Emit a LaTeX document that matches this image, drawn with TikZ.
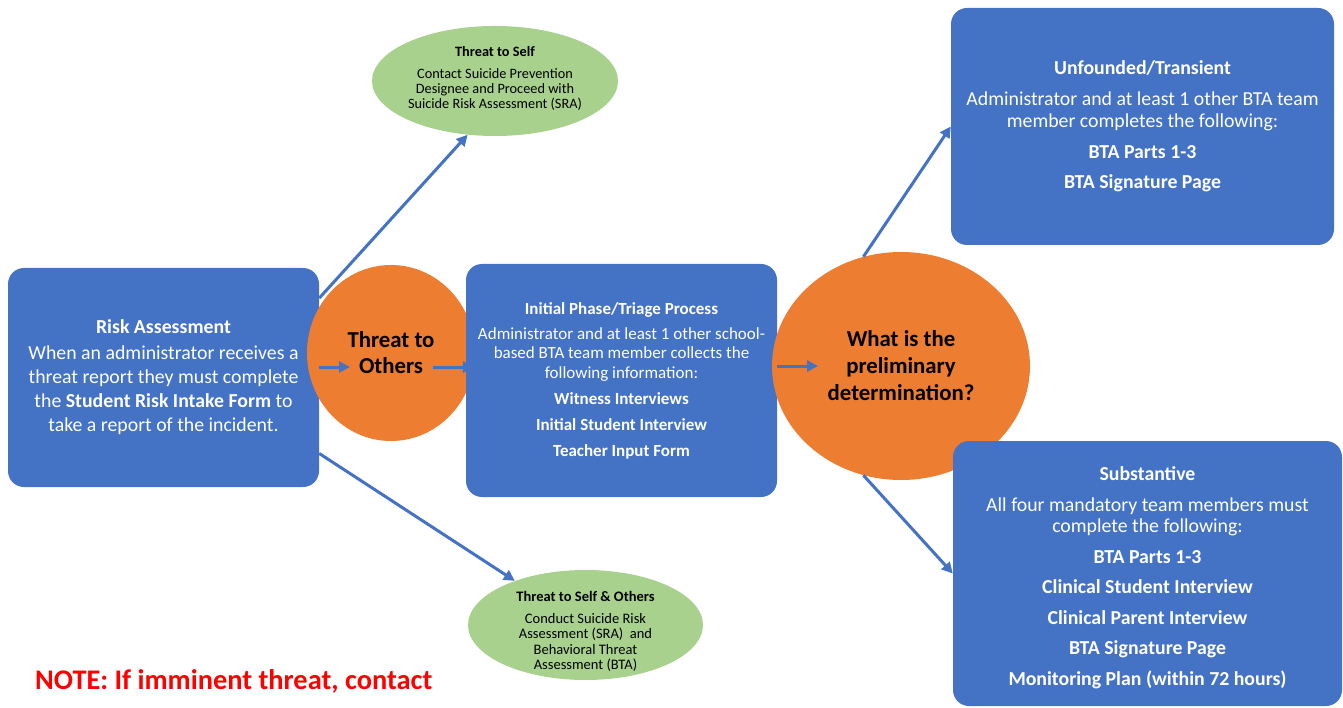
\documentclass[tikz,border=0pt]{standalone}
\usepackage{fontspec}
\setmainfont{Carlito}
\usetikzlibrary{arrows.meta,shapes.geometric,calc}
\definecolor{boxblue}{HTML}{4472C4}
\definecolor{circorange}{HTML}{ED7D31}
\definecolor{ellgreen}{HTML}{A9D18E}
\definecolor{notered}{HTML}{FF0000}
\begin{document}
\begin{tikzpicture}[x=1pt,y=-1pt,
  bluebox/.style={fill=boxblue, rounded corners=16pt, text=white, align=center, inner sep=0pt},
  orangeball/.style={ellipse, fill=circorange, text=black, align=center, inner sep=0pt},
  greenell/.style={ellipse, fill=ellgreen, inner sep=0pt},
  greentext/.style={text=black, align=center, inner sep=0pt},
  arr/.style={draw=boxblue, line width=3pt, -{Triangle[length=11pt,width=11pt]}}]
\useasboundingbox (0,0) rectangle (1343,708);

\node[bluebox, minimum width=311pt, minimum height=219pt, font=\fontsize{19.8}{24}\selectfont] (risk) at (163.5,377.5)
 {{\bfseries Risk Assessment}\\[2pt]
  When an administrator receives a\\
  threat report they must complete\\
  the {\bfseries Student Risk Intake Form} to\\
  take a report of the incident.};

\node[orangeball, minimum width=168pt, minimum height=176pt, font=\bfseries\fontsize{22.8}{26}\selectfont] (others) at (391,353)
 {Threat to\\Others};

\node[bluebox, minimum width=311pt, minimum height=233pt, font=\fontsize{17}{19.5}\selectfont] (init) at (621.5,380.5)
 {{\bfseries Initial Phase/Triage Process}\\[5.5pt]
  Administrator and at least 1 other school-\\
  based BTA team member collects the\\
  following information:\\[6.5pt]
  {\bfseries Witness Interviews}\\[6.5pt]
  {\bfseries Initial Student Interview}\\[6.5pt]
  {\bfseries Teacher Input Form}};

\node[orangeball, minimum width=258pt, minimum height=228pt, font=\bfseries\fontsize{22.8}{27}\selectfont] (what) at (901,366)
 {What is the\\preliminary\\determination?};

\node[bluebox, minimum width=383pt, minimum height=237pt, font=\fontsize{19.8}{22}\selectfont] (unf) at (1142.5,126.5)
 {{\bfseries Unfounded/Transient}\\[9pt]
  Administrator and at least 1 other BTA team\\
  member completes the following:\\[9pt]
  {\bfseries BTA Parts 1-3}\\[8pt]
  {\bfseries BTA Signature Page}};

\node[bluebox, minimum width=389pt, minimum height=265pt] (sub) at (1147.5,573.5) {};
\node[text=white, align=center, inner sep=0pt, font=\fontsize{19.8}{21}\selectfont] (subT) at ($(sub.center)+(0,4)$)
 {{\bfseries Substantive}\\[10pt]
  All four mandatory team members must\\
  complete the following:\\[10pt]
  {\bfseries BTA Parts 1-3}\\[9.5pt]
  {\bfseries Clinical Student Interview}\\[9.5pt]
  {\bfseries Clinical Parent Interview}\\[9.5pt]
  {\bfseries BTA Signature Page}\\[9.5pt]
  {\bfseries Monitoring Plan (within 72 hours)}};

\node[greenell, minimum width=246pt, minimum height=110pt] (self) at (495,81) {};
\node[greentext, font=\fontsize{14.3}{15}\selectfont] (selfT) at ($(self.center)+(0,-3)$)
 {{\bfseries Threat to Self}\\[7pt]
  Contact Suicide Prevention\\
  Designee and Proceed with\\
  Suicide Risk Assessment (SRA)};

\node[greenell, minimum width=235pt, minimum height=110pt] (so) at (585.5,625) {};
\node[greentext, font=\fontsize{14.5}{15.5}\selectfont] (soT) at ($(so.center)+(0,6.5)$)
 {{\bfseries Threat to Self \& Others}\\[6.5pt]
  Conduct Suicide Risk\\
  Assessment (SRA)~ and\\
  Behavioral Threat\\
  Assessment (BTA)};

\node[anchor=west, text=notered, inner sep=0pt, font=\bfseries\fontsize{28.4}{32}\selectfont] (note) at (35,681)
 {NOTE: If imminent threat, contact};

\draw[arr] (risk.27.7) -- (self.243);
\draw[arr] (risk.-26.8) -- (so.148);
\draw[arr] ($(risk.east)+(0,-10.5)$) -- ($(others.center)+(-41,14)$);
\draw[arr] ($(others.center)+(42,14)$) -- ($(init.west)+(8,-13.5)$);
\draw[arr] ($(init.east)+(0,-14.5)$) -- ($(what.center)+(-83,0)$);
\draw[arr] (what.109.5) -- (unf.west);
\draw[arr] (what.-109.5) -- (sub.west);
\end{tikzpicture}
\end{document}
